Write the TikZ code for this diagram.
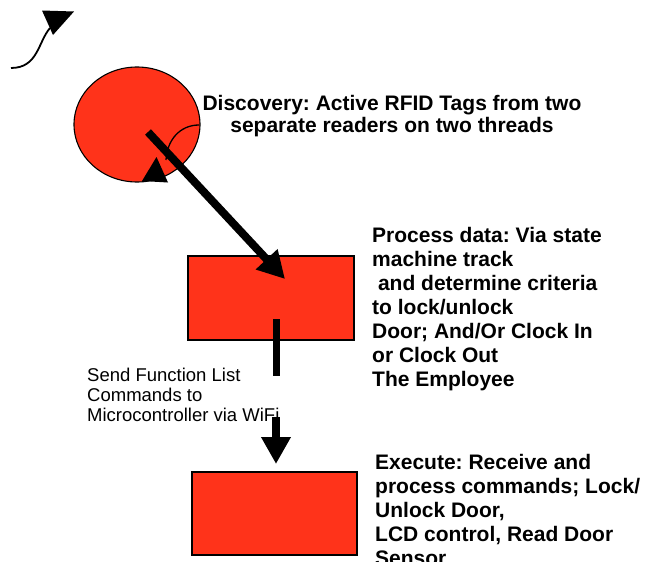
\documentclass[tikz,border=0pt]{standalone}
\usepackage{fontspec}
\setmainfont{Liberation Sans}
\usetikzlibrary{arrows.meta,shapes.geometric}
\definecolor{boxred}{RGB}{255,51,26}
\frenchspacing

\begin{document}
\begin{tikzpicture}[x=1pt,y=-1pt,
  stage/.style={draw=black,line width=1.1pt,fill=boxred,inner sep=0pt},
  bigarrow/.style={line width=8pt,-{Triangle[length=27pt,width=28pt]}},
  stub/.style={line width=7.5pt},
  curve/.style={line width=1.8pt},
  loopline/.style={line width=1.3pt},
  caption/.style={inner sep=0pt,anchor=base west,font=\bfseries\fontsize{21}{24}\selectfont},
  note/.style={inner sep=0pt,anchor=base west,font=\fontsize{18.5}{20}\selectfont}]
\useasboundingbox (0,0) rectangle (649,562);

% the three stages
\node[stage,ellipse,minimum width=126pt,minimum height=115pt] (disc) at (137,124.5) {};
\node[stage,rectangle,minimum width=166pt,minimum height=84pt] (proc) at (271,298) {};
\node[stage,rectangle,minimum width=165pt,minimum height=83pt] (exec) at (274.5,513.5) {};

% small looping arrow on the discovery stage
\coordinate (loopA) at (199,125);
\coordinate (loopB) at (166,160);
\draw[loopline] (loopA) .. controls (180,125) and (167,140) .. (loopB);
\fill (142,181) -- (156.5,157) -- (168,182.5) -- cycle;

% curved arrow in the top left corner
\coordinate (cornA) at (11,68);
\coordinate (cornB) at (50,28);
\draw[curve] (cornA) .. controls (38,68) and (38,42) .. (cornB);
\fill (42,10.5) -- (74,11.5) -- (53,35) -- cycle;

% texts
\begin{scope}
  \clip (150,80) rectangle (649,136);
  \node[caption,anchor=base,font=\bfseries\fontsize{21}{22}\selectfont] (disctext) at (392,110)
    {\vtop{\halign{\hfil#\hfil\cr
      Discovery: Active RFID Tags from two\cr
      separate readers on two threads\cr}}};
\end{scope}

\node[caption] (proctext) at (372,242) {\vtop{%
  \hbox{Process data: Via state}%
  \hbox{machine track}%
  \hbox{ and determine criteria}%
  \hbox{to lock/unlock}%
  \hbox{Door; And/Or Clock In}%
  \hbox{or Clock Out}%
  \hbox{The Employee}}};

\node[caption] (exectext) at (375,469) {\vtop{%
  \hbox{Execute: Receive and}%
  \hbox{process commands; Lock/}%
  \hbox{Unlock Door,}%
  \hbox{LCD control, Read Door}%
  \hbox{Sensor}}};

\begin{scope}
  \clip (80,355) rectangle (300,421);
  \node[note] (sendtext) at (87,381) {\vtop{%
    \hbox{Send Function List}%
    \hbox{Commands to}%
    \hbox{Microcontroller via WiFi}}};
\end{scope}

% connectors
\coordinate (a1s) at (148,132);
\coordinate (a1e) at (285,279);
\draw[bigarrow] (a1s) -- (a1e);

\coordinate (s1) at (276.5,319);
\coordinate (s2) at (276.5,376);
\draw[stub] (s1) -- (s2);

\coordinate (a2s) at (276,417);
\coordinate (a2e) at (276,464);
\draw[bigarrow] (a2s) -- (a2e);
\end{tikzpicture}
\end{document}
